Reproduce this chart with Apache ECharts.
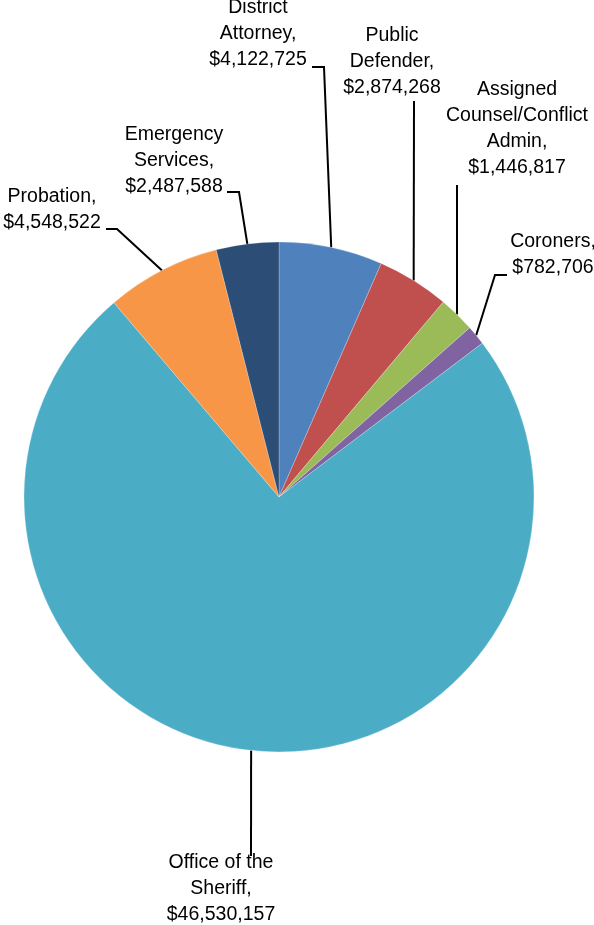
<!DOCTYPE html>
<html>
<head>
<meta charset="utf-8">
<script src="https://cdn.jsdelivr.net/npm/echarts@6/dist/echarts.min.js"></script>
<style>
  html, body { margin: 0; padding: 0; background: #fff; }
  #chart { width: 594px; height: 925px; }
</style>
</head>
<body>
<div id="chart"></div>
<script>
// Budget by department
const categories = [
  'District Attorney',
  'Public Defender',
  'Assigned Counsel/Conflict Admin',
  'Coroners',
  'Office of the Sheriff',
  'Probation',
  'Emergency Services'
];
const values = [4122725, 2874268, 1446817, 782706, 46530157, 4548522, 2487588];

// Slice colours, in category order
const palette = ['#4F81BD', '#C0504D', '#9BBB59', '#8064A2', '#4BACC6', '#F79646', '#2C4D75'];

// How each category name wraps in its label
const wrappedNames = {
  'District Attorney': 'District\nAttorney',
  'Public Defender': 'Public\nDefender',
  'Assigned Counsel/Conflict Admin': 'Assigned\nCounsel/Conflict\nAdmin',
  'Coroners': 'Coroners',
  'Office of the Sheriff': 'Office of the\nSheriff',
  'Probation': 'Probation',
  'Emergency Services': 'Emergency\nServices'
};

// Label placement: text centre x, first-line centre y, and leader-line bends
const LINE_H = 26;
const placement = [
  { x: 258, y: 8,   bends: [[324, 67], [312, 67]] },
  { x: 392, y: 36,  bends: [[414, 101]] },
  { x: 517, y: 90,  bends: [[457, 185]] },
  { x: 553, y: 242, bends: [[495, 275], [507, 275]] },
  { x: 221, y: 863, bends: [[251, 856]] },
  { x: 52,  y: 197, bends: [[117, 229], [106, 229]] },
  { x: 174, y: 135, bends: [[239, 192], [227, 192]] }
];

const money = v => '$' + v.toLocaleString('en-US');

const chart = echarts.init(document.getElementById('chart'), null, { renderer: 'canvas' });

chart.setOption({
  animation: false,
  backgroundColor: '#ffffff',
  color: palette,
  series: [{
    type: 'pie',
    center: [279, 497],
    radius: 255,
    startAngle: 90,
    clockwise: true,
    avoidLabelOverlap: false,
    data: categories.map((name, i) => ({ name: name, value: values[i] })),
    itemStyle: { borderColor: 'rgba(255,255,255,0.45)', borderWidth: 0.5 },
    label: {
      show: true,
      position: 'outside',
      fontFamily: 'Liberation Sans, Arial, sans-serif',
      fontSize: 19.5,
      lineHeight: LINE_H,
      color: '#000',
      formatter: p => wrappedNames[p.name] + ',\n' + money(p.value)
    },
    labelLine: {
      show: true,
      length: 10,
      length2: 10,
      smooth: false,
      lineStyle: { color: '#000', width: 2 }
    },
    labelLayout: function (params) {
      const pl = placement[params.dataIndex];
      const anchor = params.labelLinePoints ? params.labelLinePoints[0] : null;
      const out = {
        x: pl.x,
        y: pl.y - LINE_H / 2,
        align: 'center',
        verticalAlign: 'top'
      };
      if (anchor) {
        out.labelLinePoints = [anchor].concat(pl.bends);
      }
      return out;
    }
  }]
});
</script>
</body>
</html>
